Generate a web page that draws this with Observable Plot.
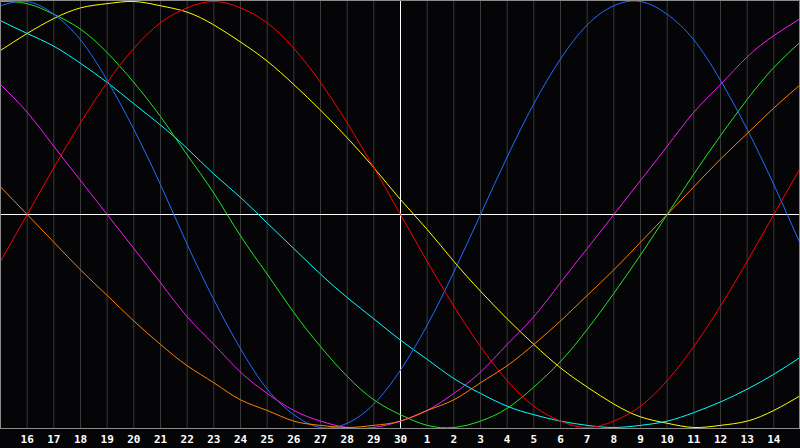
<!DOCTYPE html>
<html>
<head>
<meta charset="utf-8">
<script src="https://cdn.jsdelivr.net/npm/d3@7"></script>
<script src="https://cdn.jsdelivr.net/npm/@observablehq/plot@0.6"></script>
<style>
  html, body { margin: 0; padding: 0; background: #050508; }
  #chart svg { display: block; }
</style>
</head>
<body>
<div id="chart"></div>
<script>
// Day labels at the day boundaries (index 1..29)
const dayLabels = ["16","17","18","19","20","21","22","23","24","25","26","27","28","29","30",
                   "1","2","3","4","5","6","7","8","9","10","11","12","13","14"];
// Values (percent) read at each boundary index 0..30
const red     = [-22,0,22,43,62,78,90,97,100,97,90,78,62,43,22,0,-22,-43,-62,-78,-90,-97,-100,-97,-90,-78,-62,-43,-22,0,22];
const blue    = [98,100,94,82,63,40,14,-14,-40,-63,-82,-94,-100,-98,-89,-73,-52,-27,0,27,52,73,89,98,100,94,82,63,40,14,-14];
const green   = [100,99,94,87,76,62,46,28,10,-10,-28,-46,-62,-76,-87,-94,-99,-100,-97,-91,-81,-69,-54,-37,-19,0,19,37,54,69,81];
const magenta = [61,48,32,16,0,-16,-32,-48,-61,-74,-84,-92,-97,-100,-100,-97,-92,-84,-74,-61,-48,-32,-16,0,16,32,48,61,74,84,92];
const yellow  = [77,85,92,97,99,100,98,95,89,81,72,61,49,36,22,7,-7,-22,-36,-49,-61,-72,-81,-89,-95,-98,-100,-99,-97,-92,-85];
const orange  = [13,0,-13,-26,-38,-50,-61,-71,-79,-87,-92,-97,-99,-100,-99,-97,-92,-87,-79,-71,-61,-50,-38,-26,-13,0,13,26,38,50,61];
const cyan    = [91,85,79,71,62,52,42,31,19,8,-4,-16,-28,-39,-49,-59,-68,-77,-84,-90,-94,-97,-99,-100,-99,-97,-93,-88,-82,-75,-67];

const seriesList = [
  {name: "yellow",  values: yellow,  color: "#ffff00"},
  {name: "cyan",    values: cyan,    color: "#00ffff"},
  {name: "green",   values: green,   color: "#22e622"},
  {name: "magenta", values: magenta, color: "#f21ef2"},
  {name: "blue",    values: blue,    color: "#1e6eff"},
  {name: "red",     values: red,     color: "#ff0000"},
  {name: "orange",  values: orange,  color: "#ff8000"}
];

const gridIdx = dayLabels.map((d, i) => i + 1);
const midIdx = dayLabels.indexOf("30") + 1;

const lineMarks = seriesList.map(s =>
  Plot.line(s.values.map((v, i) => ({i, v})), {
    x: "i", y: "v", stroke: s.color, strokeWidth: 1, curve: "natural"
  })
);

const chart = Plot.plot({
  width: 800,
  height: 448,
  marginTop: 0,
  marginLeft: 0,
  marginRight: 0,
  marginBottom: 20,
  style: {background: "#050508", color: "#ffffff"},
  x: {domain: [0, 30]},
  y: {domain: [-100, 100], insetTop: 1, insetBottom: 1},
  marks: [
    Plot.ruleX(gridIdx, {stroke: "#3a3a3a", strokeWidth: 1}),
    Plot.ruleX([midIdx], {stroke: "#ffffff", strokeWidth: 1}),
    Plot.ruleY([0], {stroke: "#ffffff", strokeWidth: 1}),
    ...lineMarks,
    Plot.frame({stroke: "#8a8a8a", insetRight: 1}),
    Plot.axisX(gridIdx, {
      tickFormat: i => dayLabels[i - 1],
      tickSize: 0,
      tickPadding: 7,
      fill: "#ffffff",
      fontSize: 11,
      fontWeight: "bold",
      fontFamily: "DejaVu Sans Mono",
      label: null
    }),
    Plot.axisY({ticks: [], label: null})
  ]
});
document.getElementById("chart").appendChild(chart);
</script>
</body>
</html>
